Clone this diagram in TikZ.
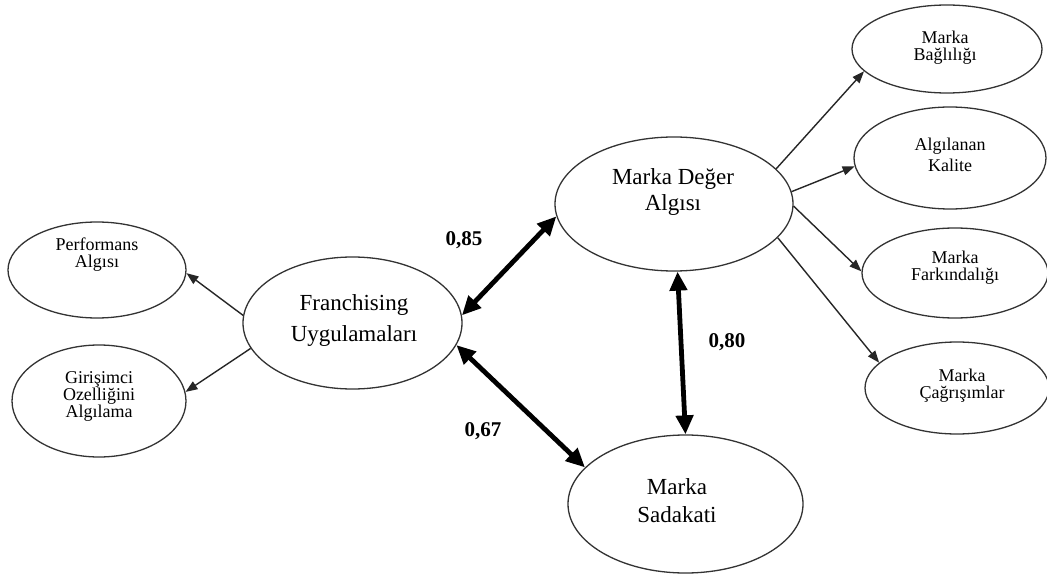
\documentclass[tikz,border=0pt]{standalone}
\usepackage{fontspec}
\setmainfont{Liberation Serif}
\usetikzlibrary{arrows.meta,shapes.geometric}
\tikzset{
  ell/.style={ellipse,draw=black!80,line width=1.3pt,inner sep=0pt,fill=white},
  smalltxt/.style={align=center,font=\fontsize{18}{17}\selectfont,text=black},
  bigtxt/.style={align=center,font=\fontsize{23}{27}\selectfont,text=black},
  thin/.style={draw=black!85,line width=1.4pt,-{Triangle[length=12pt,width=9pt]}},
  thick/.style={draw=black,line width=4.8pt,{Triangle[length=19pt,width=17pt]}-{Triangle[length=19pt,width=17pt]}},
  coef/.style={font=\bfseries\fontsize{21}{24}\selectfont}
}
\begin{document}
\begin{tikzpicture}[x=1pt,y=-1pt]
\useasboundingbox[fill=white] (0,0) rectangle (1047,588);
% ellipses
\node[ell,minimum width=178pt,minimum height=96pt] (perf) at (97,270) {};
\node[ell,minimum width=174pt,minimum height=112pt] (giri) at (99,401) {};
\node[ell,minimum width=219pt,minimum height=132pt] (fran) at (352.5,323) {};
\node[ell,minimum width=238pt,minimum height=134pt] (deger) at (674,204) {};
\node[ell,minimum width=235pt,minimum height=138pt] (sad) at (685.5,504) {};
\node[ell,minimum width=190pt,minimum height=88pt] (bagl) at (947,49) {};
\node[ell,minimum width=192pt,minimum height=102pt] (kal) at (950,158) {};
\node[ell,minimum width=186pt,minimum height=90pt] (fark) at (955,273) {};
\node[ell,minimum width=184pt,minimum height=92pt] (cagr) at (957,388) {};
% texts
\node[smalltxt] (tperf) at (97,255) {Performans\\Algısı};
\node[smalltxt] (tgiri) at (99,396) {Girişimci\\Ozelliğini\\Algılama};
\node[bigtxt,font=\fontsize{23}{31}\selectfont] (tfran) at (354,321) {Franchising\\Uygulamaları};
\node[bigtxt,font=\fontsize{23}{26}\selectfont] (tdeger) at (673,192) {Marka Değer\\Algısı};
\node[bigtxt,font=\fontsize{23}{28}\selectfont] (tsad) at (677,501) {Marka\\Sadakati};
\node[smalltxt] (tbagl) at (945,48) {Marka\\Bağlılığı};
\node[smalltxt,font=\fontsize{18}{21}\selectfont] (tkal) at (950,155) {Algılanan\\Kalite};
\node[smalltxt] (tfark) at (955,268) {Marka\\Farkındalığı};
\node[smalltxt] (tcagr) at (962,386) {Marka\\Çağrışımlar};
% thin arrows
\draw[thin] (fran.176.8) -- (perf.-2);
\draw[thin] (fran.194) -- (giri.6);
\draw[thin] (deger.19.2) -- (bagl.195);
\draw[thin] (deger.6.6) -- (kal.185.4);
\draw[thin] (deger.-1.4) -- (fark.179.4);
\draw[thin] (deger.-18.4) -- (cagr.162.4);
% thick arrows
\draw[thick] (fran.4.3) -- (deger.186);
\draw[thick] (fran.-12.7) -- (sad.160);
\draw[thick] (deger.-87.5) -- (sad.90);
% coefficients
\node[coef] (c85) at (464,240) {0,85};
\node[coef] (c80) at (727,342) {0,80};
\node[coef] (c67) at (483,431) {0,67};
\end{tikzpicture}
\end{document}
